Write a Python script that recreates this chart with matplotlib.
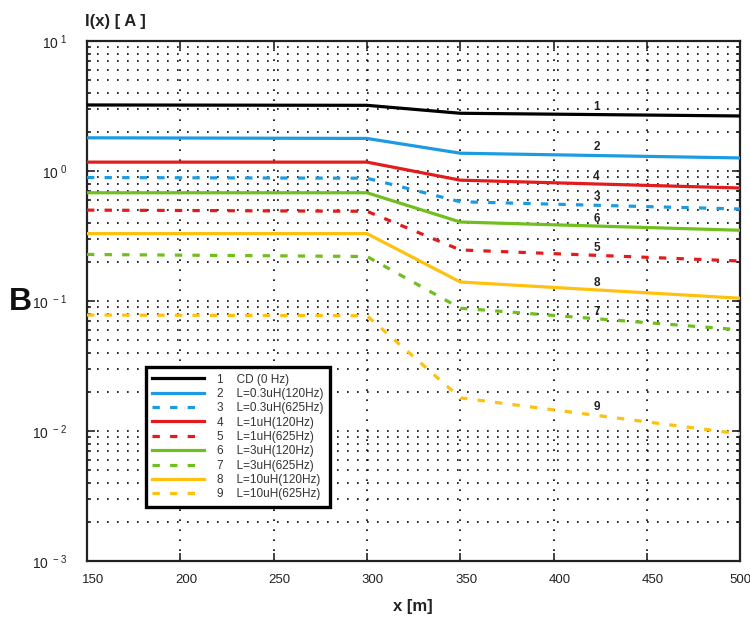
import numpy as np
import matplotlib
matplotlib.use('Agg')
import matplotlib.pyplot as plt
from matplotlib.transforms import ScaledTranslation

plt.rcParams['font.family'] = ['Liberation Sans', 'DejaVu Sans']

# distance along the line [m]
x = [150, 300, 350, 500]

# current I(x) [A] for each case
i1 = [3.22, 3.20, 2.78, 2.65]
i2 = [1.80, 1.78, 1.37, 1.26]
i3 = [0.89, 0.88, 0.58, 0.51]
i4 = [1.17, 1.17, 0.85, 0.74]
i5 = [0.50, 0.49, 0.247, 0.203]
i6 = [0.68, 0.68, 0.405, 0.35]
i7 = [0.228, 0.22, 0.088, 0.060]
i8 = [0.33, 0.33, 0.14, 0.105]
i9 = [0.078, 0.077, 0.018, 0.0095]

names = ['CD (0 Hz)', 'L=0.3uH(120Hz)', 'L=0.3uH(625Hz)', 'L=1uH(120Hz)',
         'L=1uH(625Hz)', 'L=3uH(120Hz)', 'L=3uH(625Hz)', 'L=10uH(120Hz)',
         'L=10uH(625Hz)']

# where the curve numbers sit on the plot
num_x = 423
num_y = [3.1, 1.53, 0.63, 0.90, 0.256, 0.43, 0.082, 0.137, 0.0153]

yticks = [1e-3, 1e-2, 1e-1, 1e0, 1e1]
ylabels = [r'$\mathregular{10^{\ -3}}$', r'$\mathregular{10^{\ -2}}$',
           r'$\mathregular{10^{\ -1}}$', r'$\mathregular{10^{\ 0}}$',
           r'$\mathregular{10^{\ 1}}$']
xticks = [150, 200, 250, 300, 350, 400, 450, 500]

blue = '#1c9be2'
red = '#e21c1c'
green = '#70bf1e'
orange = '#ffc10e'
styles = [('black', '-'), (blue, '-'), (blue, '--'), (red, '-'), (red, '--'),
          (green, '-'), (green, '--'), (orange, '-'), (orange, '--')]

fig = plt.figure(figsize=(7.5, 6.21), dpi=100)
ax = fig.add_axes([0.116, 0.0966, 0.871, 0.8374])

series = [i1, i2, i3, i4, i5, i6, i7, i8, i9]
for k, (ys, (c, ls)) in enumerate(zip(series, styles)):
    lbl = '%d    %s' % (k + 1, names[k])
    if ls == '--':
        ax.plot(x, ys, color=c, lw=2.3, dashes=(2.3, 3.2), label=lbl, zorder=3)
    else:
        ax.plot(x, ys, color=c, lw=2.3, label=lbl, zorder=3)
    ax.text(num_x, num_y[k], str(k + 1), fontsize=8.5, fontweight='bold',
            ha='center', va='center', color='#222', zorder=4)

ax.set_yscale('log')
ax.set_ylim(1e-3, 1e1)
ax.set_xlim(150, 500)
ax.set_xticks(xticks)
ax.set_yticks(yticks)
ax.set_yticklabels(ylabels)

ax.grid(True, which='both', axis='y', color='black', lw=1.2,
        linestyle=(0, (1, 5)), zorder=1)
ax.grid(True, which='major', axis='x', color='black', lw=1.2,
        linestyle=(0, (1, 5)), zorder=1)

ax.tick_params(which='both', direction='in', top=True, right=True, color='#222')
ax.tick_params(which='major', length=6, width=1.2)
ax.tick_params(which='minor', length=3, width=1.2)
ax.tick_params(axis='y', pad=14, labelsize=10, labelcolor='#222')
ax.tick_params(axis='x', pad=9, labelsize=9.5, labelcolor='#222')
for s in ax.spines.values():
    s.set_linewidth(1.6)
    s.set_color('#222')

for t in ax.get_xticklabels()[:-1]:
    t.set_transform(t.get_transform() + ScaledTranslation(0.06, 0, fig.dpi_scale_trans))

leg = ax.legend(loc='lower left', bbox_to_anchor=(0.09, 0.104), borderaxespad=0,
                fontsize=8.5, handlelength=4.4, handletextpad=1.1,
                labelspacing=0.2, fancybox=False, framealpha=1,
                edgecolor='black', borderpad=0.55)
leg.get_frame().set_linewidth(2.4)
for t in leg.get_texts():
    t.set_color('#333')

fig.text(0.113, 0.966, 'I(x) [ A ]', fontsize=12, fontweight='bold',
         ha='left', va='center', color='#222')
fig.text(0.551, 0.023, 'x [m]', fontsize=12, fontweight='bold',
         ha='center', va='center', color='#222')
fig.text(0.027, 0.514, 'B', fontsize=23, fontweight='bold',
         ha='center', va='center', color='#111')

fig.savefig('out.png', dpi=100)
